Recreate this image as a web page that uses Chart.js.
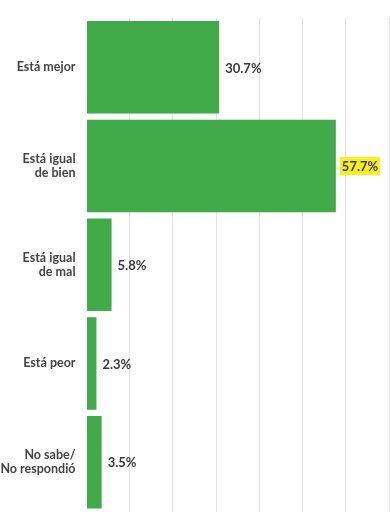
<!DOCTYPE html>
<html><head><meta charset="utf-8">
<script src="https://cdn.jsdelivr.net/npm/chart.js@4"></script>
<style>html,body{margin:0;padding:0;background:#fff;}#w{width:390px;height:530px;}</style>
</head><body><div id="w"><canvas id="c"></canvas></div>
<script>
const categories = [["Está mejor"], ["Está igual", "de bien"], ["Está igual", "de mal"], ["Está peor"], ["No sabe/", "No respondió"]];
const values = [30.7, 57.7, 5.8, 2.3, 3.5];
const valueLabels = ["30.7%", "57.7%", "5.8%", "2.3%", "3.5%"];
const highlighted = [false, true, false, false, false];

const labelPlugin = {
  id: 'valueLabels',
  afterDatasetsDraw(chart) {
    const ctx = chart.ctx;
    const meta = chart.getDatasetMeta(0);
    ctx.save();
    ctx.font = 'bold 13px Lato, "Open Sans", sans-serif';
    ctx.textBaseline = 'middle';
    ctx.textAlign = 'left';
    meta.data.forEach((bar, i) => {
      const txt = valueLabels[i];
      const x = bar.x + 6;
      const y = bar.y;
      const w = ctx.measureText(txt).width;
      if (highlighted[i]) {
        ctx.fillStyle = '#f7f01c';
        ctx.fillRect(x - 2, y - 9, w + 4, 18);
      }
      ctx.fillStyle = '#3a3a3a';
      ctx.fillText(txt, x, y + 1);
    });
    ctx.restore();
  }
};

new Chart(document.getElementById('c'), {
  type: 'bar',
  data: {
    labels: categories,
    datasets: [{
      data: values,
      backgroundColor: '#41ab4a',
      borderWidth: 0,
      barPercentage: 0.937,
      categoryPercentage: 1
    }]
  },
  options: {
    indexAxis: 'y',
    responsive: true,
    maintainAspectRatio: false,
    animation: false,
    layout: { padding: { top: 18, bottom: 18.5, left: 0, right: 1 } },
    plugins: { legend: { display: false }, tooltip: { enabled: false } },
    scales: {
      x: {
        min: 0, max: 70,
        ticks: { display: false, stepSize: 10 },
        border: { display: false },
        grid: {
          color: (c) => (c.tick && c.tick.value === 0) ? 'rgba(0,0,0,0)' : '#e2e2e2',
          lineWidth: 1,
          drawTicks: false
        }
      },
      y: {
        grid: { display: false, drawTicks: false },
        border: { display: false },
        afterFit: (s) => { s.width = 86.5; s.paddingTop = 0; s.paddingBottom = 0; },
        ticks: {
          padding: 11,
          color: '#444',
          font: { family: 'Lato, "Open Sans", sans-serif', size: 12.5, weight: 'bold', lineHeight: 1.1 }
        }
      }
    }
  },
  plugins: [labelPlugin]
});
</script></body></html>
